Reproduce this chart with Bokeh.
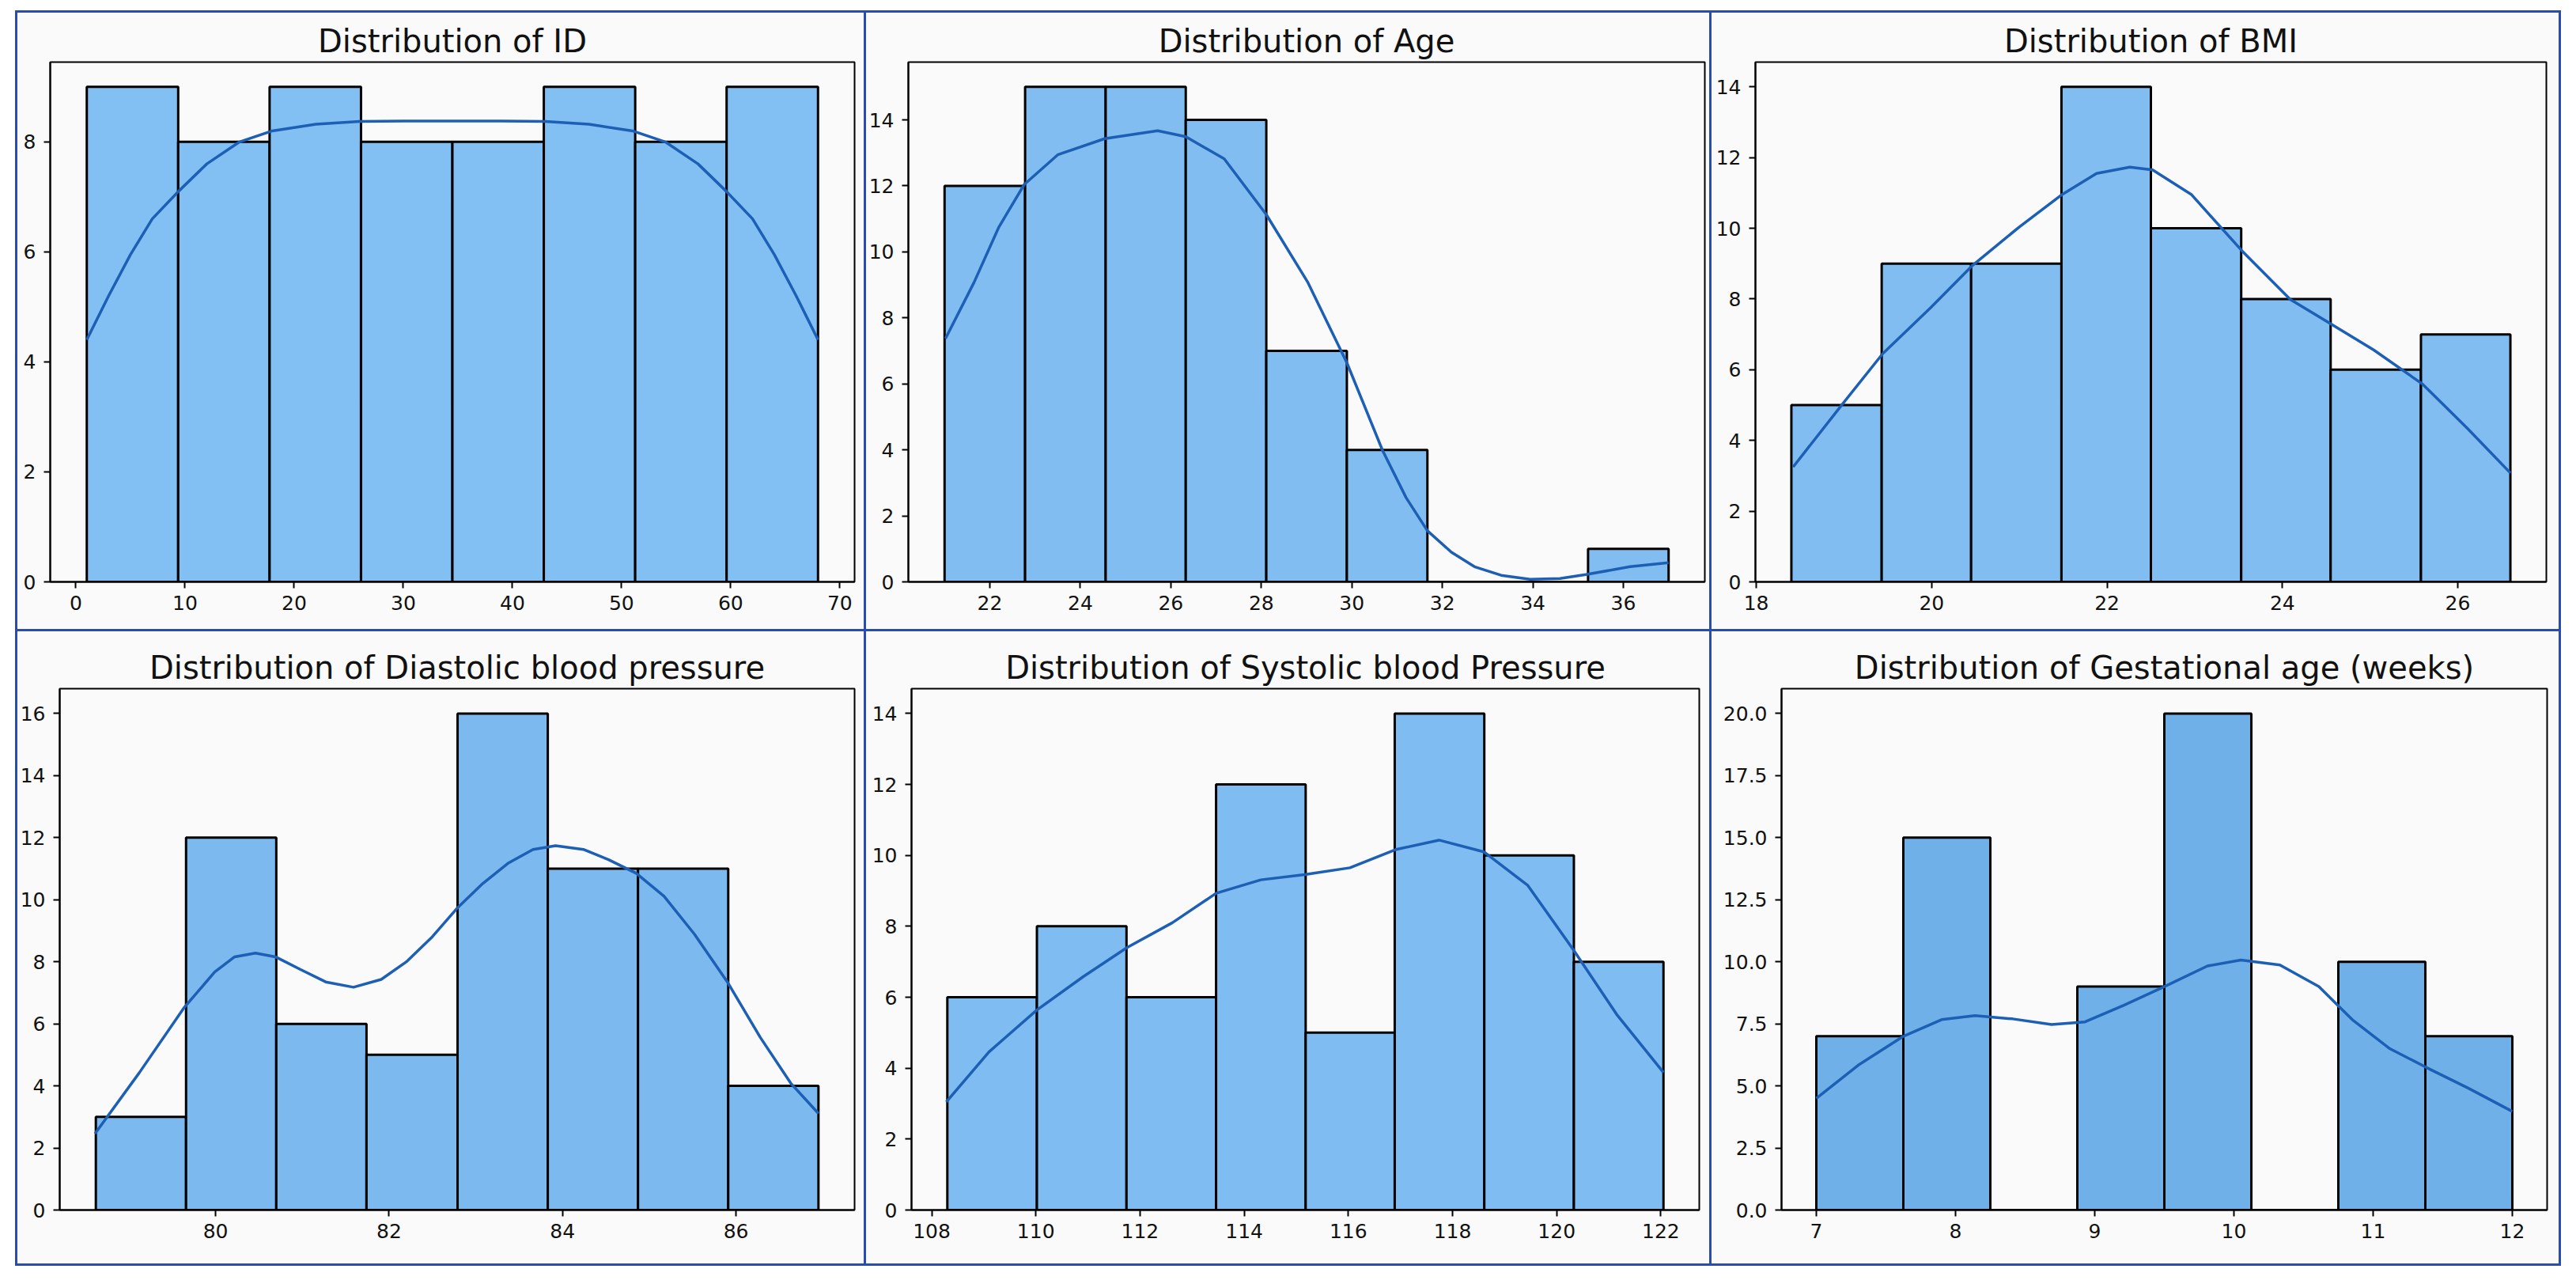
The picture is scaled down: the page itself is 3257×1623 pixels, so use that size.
import numpy as np
from bokeh.plotting import figure
from bokeh.models import Range1d, FixedTicker, NumeralTickFormatter, Spacer
from bokeh.layouts import column, row
from bokeh.embed import file_html
from bokeh.resources import INLINE

# ---------------- data ----------------
id_title = "Distribution of ID"
id_edges = [1, 9.375, 17.75, 26.125, 34.5, 42.875, 51.25, 59.625, 68]
id_counts = [9, 8, 9, 8, 8, 9, 8, 9]
id_kde_x = [1, 3, 5, 7, 9.4, 12, 15, 18, 22, 26, 30, 34.5, 39, 43, 47, 51, 54, 57, 59.6, 62, 64, 66, 68]
id_kde_y = [4.4, 5.2, 5.95, 6.6, 7.1, 7.6, 8.0, 8.2, 8.32, 8.37, 8.38, 8.38, 8.38, 8.37, 8.32, 8.2, 8.0, 7.6, 7.1, 6.6, 5.95, 5.2, 4.4]
id_xticks = [0, 10, 20, 30, 40, 50, 60, 70]
id_yticks = [0, 2, 4, 6, 8]

age_title = "Distribution of Age"
age_edges = [21, 22.78, 24.56, 26.33, 28.11, 29.89, 31.67, 33.44, 35.22, 37]
age_counts = [12, 15, 15, 14, 7, 4, 0, 0, 1]
age_kde_x = [21.02, 21.65, 22.2, 22.76, 23.5, 24.54, 25.71, 26.33, 27.18, 28.11, 29.03, 29.89, 30.68, 31.2, 31.67, 32.2, 32.71, 33.3, 33.94, 34.6, 35.17, 36.15, 37.0]
age_kde_y = [7.37, 9.07, 10.75, 12.04, 12.94, 13.43, 13.67, 13.49, 12.82, 11.13, 9.07, 6.64, 3.98, 2.55, 1.55, 0.9, 0.46, 0.2, 0.08, 0.1, 0.22, 0.46, 0.58]
age_xticks = [22, 24, 26, 28, 30, 32, 34, 36]
age_yticks = [0, 2, 4, 6, 8, 10, 12, 14]

bmi_title = "Distribution of BMI"
bmi_edges = [18.4, 19.43, 20.45, 21.48, 22.5, 23.53, 24.55, 25.58, 26.6]
bmi_counts = [5, 9, 9, 14, 10, 8, 6, 7]
bmi_kde_x = [18.42, 18.98, 19.44, 19.99, 20.47, 21.0, 21.49, 21.88, 22.26, 22.52, 22.96, 23.54, 24.09, 24.55, 25.04, 25.6, 26.11, 26.6]
bmi_kde_y = [3.25, 5.02, 6.45, 7.76, 8.96, 10.04, 10.96, 11.55, 11.73, 11.65, 10.96, 9.36, 7.99, 7.30, 6.56, 5.59, 4.34, 3.08]
bmi_xticks = [18, 20, 22, 24, 26]
bmi_yticks = [0, 2, 4, 6, 8, 10, 12, 14]

dia_title = "Distribution of Diastolic blood pressure"
dia_edges = [78.62, 79.66, 80.70, 81.74, 82.79, 83.83, 84.87, 85.91, 86.95]
dia_counts = [3, 12, 6, 5, 16, 11, 11, 4]
dia_kde_x = [78.61, 79.12, 79.64, 79.99, 80.22, 80.46, 80.69, 80.98, 81.27, 81.59, 81.91, 82.20, 82.50, 82.78,
             83.08, 83.37, 83.66, 83.92, 84.24, 84.53, 84.85, 85.17, 85.52, 85.90, 86.28, 86.63, 86.95]
dia_kde_y = [2.46, 4.42, 6.53, 7.67, 8.16, 8.28, 8.16, 7.75, 7.35, 7.18, 7.43, 8.0, 8.81, 9.71,
             10.52, 11.17, 11.62, 11.74, 11.62, 11.29, 10.85, 10.11, 8.89, 7.35, 5.56, 4.09, 3.11]
dia_xticks = [80, 82, 84, 86]
dia_yticks = [0, 2, 4, 6, 8, 10, 12, 14, 16]

sys_title = "Distribution of Systolic blood Pressure"
sys_edges = [108.3, 110.02, 111.74, 113.46, 115.18, 116.89, 118.61, 120.33, 122.05]
sys_counts = [6, 8, 6, 12, 5, 14, 10, 7]
sys_kde_x = [108.28, 109.10, 110.02, 110.91, 111.75, 112.62, 113.46, 114.32, 115.16, 116.03, 116.90, 117.74, 118.6, 119.44, 120.32, 121.15, 122.05]
sys_kde_y = [3.05, 4.46, 5.64, 6.58, 7.40, 8.10, 8.93, 9.31, 9.46, 9.65, 10.16, 10.43, 10.10, 9.16, 7.34, 5.52, 3.88]
sys_xticks = [108, 110, 112, 114, 116, 118, 120, 122]
sys_yticks = [0, 2, 4, 6, 8, 10, 12, 14]

ges_title = "Distribution of Gestational age (weeks)"
ges_edges = [7, 7.625, 8.25, 8.875, 9.5, 10.125, 10.75, 11.375, 12]
ges_counts = [7, 15, 0, 9, 20, 0, 10, 7]
ges_kde_x = [7.0, 7.30, 7.626, 7.90, 8.14, 8.41, 8.69, 8.93, 9.21, 9.50, 9.81, 10.05, 10.33, 10.61, 10.85, 11.12, 11.38, 11.68, 12.0]
ges_kde_y = [4.50, 5.83, 7.0, 7.67, 7.83, 7.70, 7.47, 7.58, 8.25, 9.0, 9.83, 10.07, 9.87, 9.0, 7.67, 6.5, 5.75, 4.92, 3.97]
ges_xticks = [7, 8, 9, 10, 11, 12]
ges_yticks = [0, 2.5, 5, 7.5, 10, 12.5, 15, 17.5, 20]

# ---------------- styling / layout ----------------
BG = "#fafafa"
BORDER = "#2a4cb0"
KDE = "#1c5fb5"
FONT = "DejaVu Sans"


def make(title, edges, counts, kx, ky, xticks, yticks, yfmt, W, H, fl, fr, ft, fb, fill):
    xmin, xmax = edges[0], edges[-1]
    pad = 0.05 * (xmax - xmin)
    ytop = 1.05 * max(max(counts), max(ky))
    p = figure(width=W, height=H, x_range=Range1d(xmin - pad, xmax + pad),
               y_range=Range1d(0, ytop), output_backend="svg", toolbar_location=None,
               min_border_left=fl, min_border_right=fr, min_border_top=ft, min_border_bottom=fb)
    p.title.text = title
    p.title.align = "center"
    p.title.text_font = FONT
    p.title.text_font_size = "40px"
    p.title.text_font_style = "normal"
    p.title.text_color = "#111111"
    p.title.standoff = 8
    p.background_fill_color = BG
    p.border_fill_color = BG
    p.outline_line_color = "black"
    p.outline_line_width = 2
    p.xgrid.visible = False
    p.ygrid.visible = False
    p.quad(left=edges[:-1], right=edges[1:], bottom=0, top=counts,
           fill_color=fill, fill_alpha=1.0, line_color="black", line_width=3)
    p.line(kx, ky, line_color=KDE, line_width=3.5)
    p.xaxis.ticker = FixedTicker(ticks=xticks)
    p.yaxis.ticker = FixedTicker(ticks=yticks)
    p.yaxis.formatter = NumeralTickFormatter(format=yfmt)
    p.xaxis.formatter = NumeralTickFormatter(format="0")
    for ax in (p.xaxis, p.yaxis):
        ax.axis_line_color = "black"
        ax.axis_line_width = 2
        ax.major_tick_line_color = "black"
        ax.major_tick_line_width = 2
        ax.major_tick_out = 8
        ax.major_tick_in = 0
        ax.minor_tick_line_color = None
        ax.major_label_text_font = FONT
        ax.major_label_text_font_size = "25px"
        ax.major_label_text_color = "#111111"
    p.xaxis.major_label_standoff = 9
    p.yaxis.major_label_standoff = 10
    return p


W1, W2, W3 = 1070, 1066, 1071
H1, H2 = 779, 799
LW = 3  # panel border thickness
TOTW = LW * 4 + W1 + W2 + W3
LEFT_PAD, TOP_PAD = 19, 13

p1 = make(id_title, id_edges, id_counts, id_kde_x, id_kde_y, id_xticks, id_yticks, "0",
          W1, H1, 41, 12, 61, 51, "#82bff3")
p2 = make(age_title, age_edges, age_counts, age_kde_x, age_kde_y, age_xticks, age_yticks, "0",
          W2, H1, 52, 6, 60, 56, "#81bdf1")
p3 = make(bmi_title, bmi_edges, bmi_counts, bmi_kde_x, bmi_kde_y, bmi_xticks, bmi_yticks, "0",
          W3, H1, 55, 16, 62, 60, "#81bdf1")
p4 = make(dia_title, dia_edges, dia_counts, dia_kde_x, dia_kde_y, dia_xticks, dia_yticks, "0",
          W1, H2, 51, 12, 55, 56, "#7bb9ef")
p5 = make(sys_title, sys_edges, sys_counts, sys_kde_x, sys_kde_y, sys_xticks, sys_yticks, "0",
          W2, H2, 57, 13, 65, 68, "#7ebcf1")
p6 = make(ges_title, ges_edges, ges_counts, ges_kde_x, ges_kde_y, ges_xticks, ges_yticks, "0.0",
          W3, H2, 88, 15, 72, 58, "#70b0e8")


def vbar(h):
    return Spacer(width=LW, height=h, styles={"background-color": BORDER})


def hbar():
    return Spacer(width=TOTW, height=LW, styles={"background-color": BORDER})


box = column(
    hbar(),
    row(vbar(H1), p1, vbar(H1), p2, vbar(H1), p3, vbar(H1)),
    hbar(),
    row(vbar(H2), p4, vbar(H2), p5, vbar(H2), p6, vbar(H2)),
    hbar(),
)
TOTH = LW * 3 + H1 + H2
page = column(Spacer(width=TOTW + LEFT_PAD, height=TOP_PAD),
              row(Spacer(width=LEFT_PAD, height=TOTH), box))
open("out.html", "w").write(file_html(page, INLINE))
